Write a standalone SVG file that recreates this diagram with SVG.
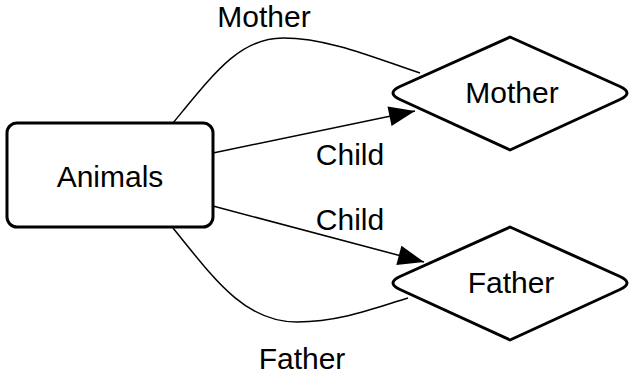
<svg xmlns="http://www.w3.org/2000/svg" width="629" height="376" viewBox="0 0 629 376">
  <style>
    .node { fill: #ffffff; stroke: #000000; stroke-width: 3; stroke-linejoin: round; }
    .edge { fill: none; stroke: #000000; stroke-width: 1.5; }
    text { font-family: "Liberation Sans", Helvetica, Arial, sans-serif; font-size: 30px; fill: #000000; text-anchor: middle; }
  </style>
  <defs>
    <marker id="arrow" markerUnits="userSpaceOnUse" markerWidth="28" markerHeight="22" refX="27" refY="11" orient="auto">
      <path d="M1,1 L27,11 L1,21 z" fill="#000000"/>
    </marker>
  </defs>

  <rect width="629" height="376" fill="#ffffff"/>

  <!-- connectors -->
  <g id="edges">
    <path class="edge" d="M173,123 C215,72 240,38 283,38 C330,38 380,60 420,73"/>
    <path class="edge" d="M213,153 L415,111" marker-end="url(#arrow)"/>
    <path class="edge" d="M213,206 L424,262" marker-end="url(#arrow)"/>
    <path class="edge" d="M173,228 C215,280 245,322 297,322 C340,322 375,308 408,298"/>
  </g>

  <!-- nodes -->
  <g id="animals">
    <rect class="node" x="7" y="123" width="206" height="104" rx="10" ry="10"/>
    <text x="110" y="187">Animals</text>
  </g>

  <g id="mother">
    <path class="node" d="M400,86.5 L510,37 L620,86.5 Q634,93 620,99.5 L510,150 L400,99.5 Q386,93 400,86.5 z"/>
    <text x="512" y="103">Mother</text>
  </g>

  <g id="father">
    <path class="node" d="M400,276.5 L510,227 L620,276.5 Q634,283 620,289.5 L510,340 L400,289.5 Q386,283 400,276.5 z"/>
    <text x="511" y="293">Father</text>
  </g>

  <!-- edge labels -->
  <g id="labels">
    <text x="264" y="27">Mother</text>
    <text x="350" y="165">Child</text>
    <text x="350" y="230">Child</text>
    <text x="302" y="369">Father</text>
  </g>
</svg>
